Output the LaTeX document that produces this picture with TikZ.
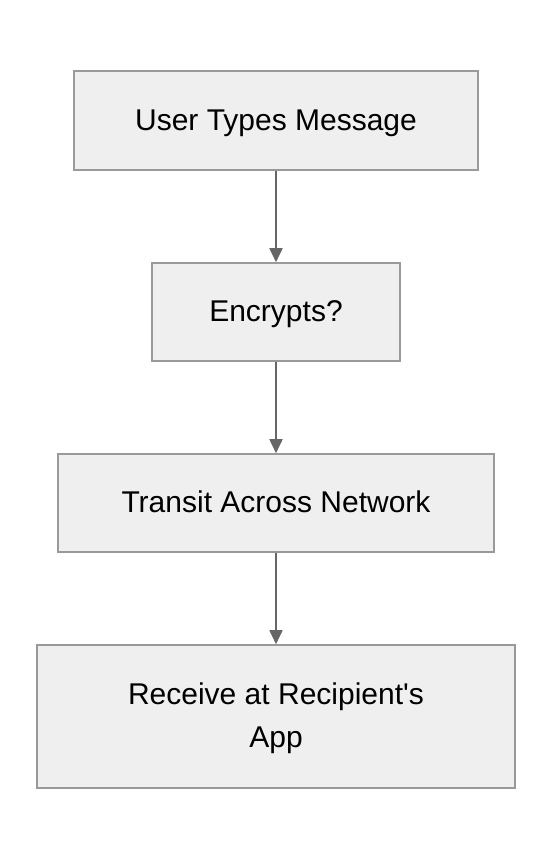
\documentclass[tikz,border=0pt]{standalone}
\usepackage{fontspec}
\setmainfont{Liberation Sans}
\usetikzlibrary{arrows.meta}
\definecolor{boxfill}{HTML}{EFEFEF}
\definecolor{boxline}{HTML}{999999}
\definecolor{arrowc}{HTML}{666666}
\tikzset{
  flowbox/.style={draw=boxline, fill=boxfill, line width=1.6pt, inner sep=0pt,
    font=\fontsize{30}{43}\selectfont, text=black, align=center,
    text height=20pt, text depth=0pt},
  flowarrow/.style={draw=arrowc, line width=1.8pt, -{Triangle[length=14pt,width=13pt]}}
}
\begin{document}
\begin{tikzpicture}[x=1pt,y=1pt]
\useasboundingbox[fill=white] (0,0) rectangle (552,860);
\node[flowbox, minimum width=404pt, minimum height=99pt] (b1) at (276,860-120.5) {User Types Message};
\node[flowbox, minimum width=248pt, minimum height=98pt] (b2) at (276,860-312) {Encrypts?};
\node[flowbox, minimum width=436pt, minimum height=98pt] (b3) at (276,860-503) {Transit Across Network};
\node[flowbox, minimum width=478pt, minimum height=143pt, text height=63pt] (b4) at (276,860-716.5) {Receive at Recipient\textquotesingle s\\App};
\draw[flowarrow] (b1.south) -- (b2.north);
\draw[flowarrow] (b2.south) -- (b3.north);
\draw[flowarrow] (b3.south) -- (b4.north);
\end{tikzpicture}
\end{document}
